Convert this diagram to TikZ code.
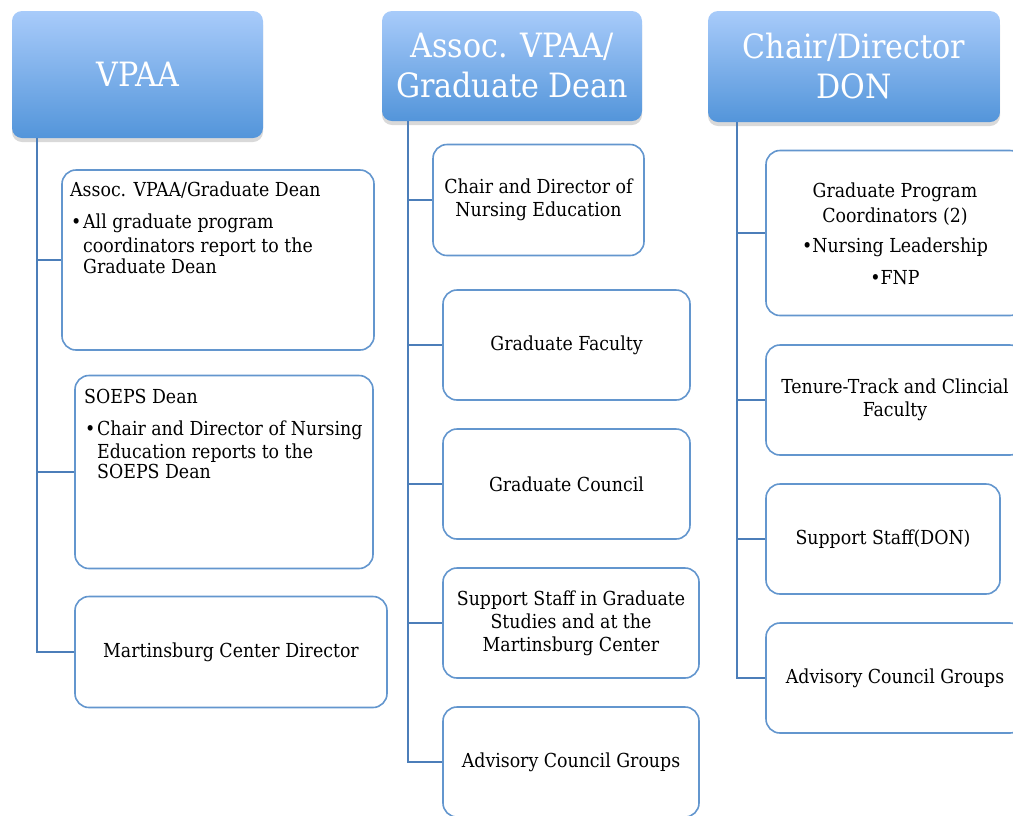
\documentclass[tikz,border=0pt]{standalone}
\usepackage{fontspec}
\setmainfont{DejaVu Serif Condensed}
\usetikzlibrary{shadows}
\definecolor{bord}{HTML}{6396CE}
\definecolor{connc}{HTML}{4C7EB9}
\definecolor{topc}{HTML}{A8CBFA}
\definecolor{botc}{HTML}{5395DA}
\tikzset{
  head/.style={rounded corners=10pt, top color=topc, bottom color=botc, draw=none,
    drop shadow={shadow xshift=0pt, shadow yshift=-4pt, opacity=0.3},
    text=white, font=\fontsize{33.5}{40}\selectfont, align=center},
  box/.style={draw=bord, line width=1.6pt, rounded corners=14pt, fill=white,
    font=\fontsize{19.3}{23}\selectfont, align=center},
  txt/.style={inner sep=0pt, font=\fontsize{19.3}{23}\selectfont},
  connline/.style={draw=connc, line width=2pt}
}
\begin{document}
\begin{tikzpicture}[x=1pt,y=-1pt]
\useasboundingbox (0,0) rectangle (1013,815);
\clip (0,0) rectangle (1013,815);

% head boxes
\node[head, minimum width=251pt, minimum height=127pt] (vpaa) at (137.5,74.5) {VPAA};
\node[head, minimum width=260pt, minimum height=110pt] (avp) at (512,66) {Assoc. VPAA/\\Graduate Dean};
\node[head, minimum width=292pt, minimum height=111pt] (don) at (854,66.5) {Chair/Director\\DON};

% trunks
\coordinate (vt) at (37,138);
\coordinate (mt) at (408,121);
\coordinate (rt) at (737,122);

% left column
\node[box, minimum width=312pt, minimum height=180pt] (l1) at (218,260) {};
\node[box, minimum width=298pt, minimum height=193pt] (l2) at (224,472) {};
\node[box, minimum width=312pt, minimum height=111pt] (l3) at (231,652) {Martinsburg Center Director};

\node[txt, anchor=base west] (l1a) at (70,196) {Assoc. VPAA/Graduate Dean};
\node[txt, anchor=base west] (l1b) at (71,228) {\textbullet};
\node[txt, anchor=base west] (l1c) at (83,228) {All graduate program};
\node[txt, anchor=base west] (l1d) at (83,252) {coordinators report to the};
\node[txt, anchor=base west] (l1e) at (83,273) {Graduate Dean};

\node[txt, anchor=base west] (l2a) at (84,403) {SOEPS Dean};
\node[txt, anchor=base west] (l2b) at (85,435) {\textbullet};
\node[txt, anchor=base west] (l2c) at (97,435) {Chair and Director of Nursing};
\node[txt, anchor=base west] (l2d) at (97,458) {Education reports to the};
\node[txt, anchor=base west] (l2e) at (97,478) {SOEPS Dean};

% middle column
\node[box, minimum width=211pt, minimum height=111pt] (m1) at (538.5,200) {Chair and Director of\\Nursing Education};
\node[box, minimum width=247pt, minimum height=110pt] (m2) at (566.5,345) {Graduate Faculty};
\node[box, minimum width=247pt, minimum height=110pt] (m3) at (566.5,484) {Graduate Council};
\node[box, minimum width=256pt, minimum height=110pt] (m4) at (571,623) {Support Staff in Graduate\\Studies and at the\\Martinsburg Center};
\node[box, minimum width=256pt, minimum height=110pt] (m5) at (571,762) {Advisory Council Groups};

% right column
\node[box, minimum width=258pt, minimum height=165pt] (r1) at (895,233) {};
\node[txt, anchor=base] (r1a) at (895,197) {Graduate Program};
\node[txt, anchor=base] (r1b) at (895,222) {Coordinators (2)};
\node[txt, anchor=base] (r1c) at (895,252) {\textbullet Nursing Leadership};
\node[txt, anchor=base] (r1d) at (895,284) {\textbullet FNP};
\node[box, minimum width=258pt, minimum height=110pt] (r2) at (895,400) {Tenure-Track and Clincial\\Faculty};
\node[box, minimum width=234pt, minimum height=110pt] (r3) at (883,539) {Support Staff(DON)};
\node[box, minimum width=258pt, minimum height=110pt] (r4) at (895,678) {Advisory Council Groups};

% connectors
\draw[connline] (vt) |- (l3.west);
\draw[connline] (vt |- l1.west) -- (l1.west);
\draw[connline] (vt |- l2.west) -- (l2.west);

\draw[connline] (mt) |- (m5.west);
\draw[connline] (mt |- m1.west) -- (m1.west);
\draw[connline] (mt |- m2.west) -- (m2.west);
\draw[connline] (mt |- m3.west) -- (m3.west);
\draw[connline] (mt |- m4.west) -- (m4.west);

\draw[connline] (rt) |- (r4.west);
\draw[connline] (rt |- r1.west) -- (r1.west);
\draw[connline] (rt |- r2.west) -- (r2.west);
\draw[connline] (rt |- r3.west) -- (r3.west);
\end{tikzpicture}
\end{document}
